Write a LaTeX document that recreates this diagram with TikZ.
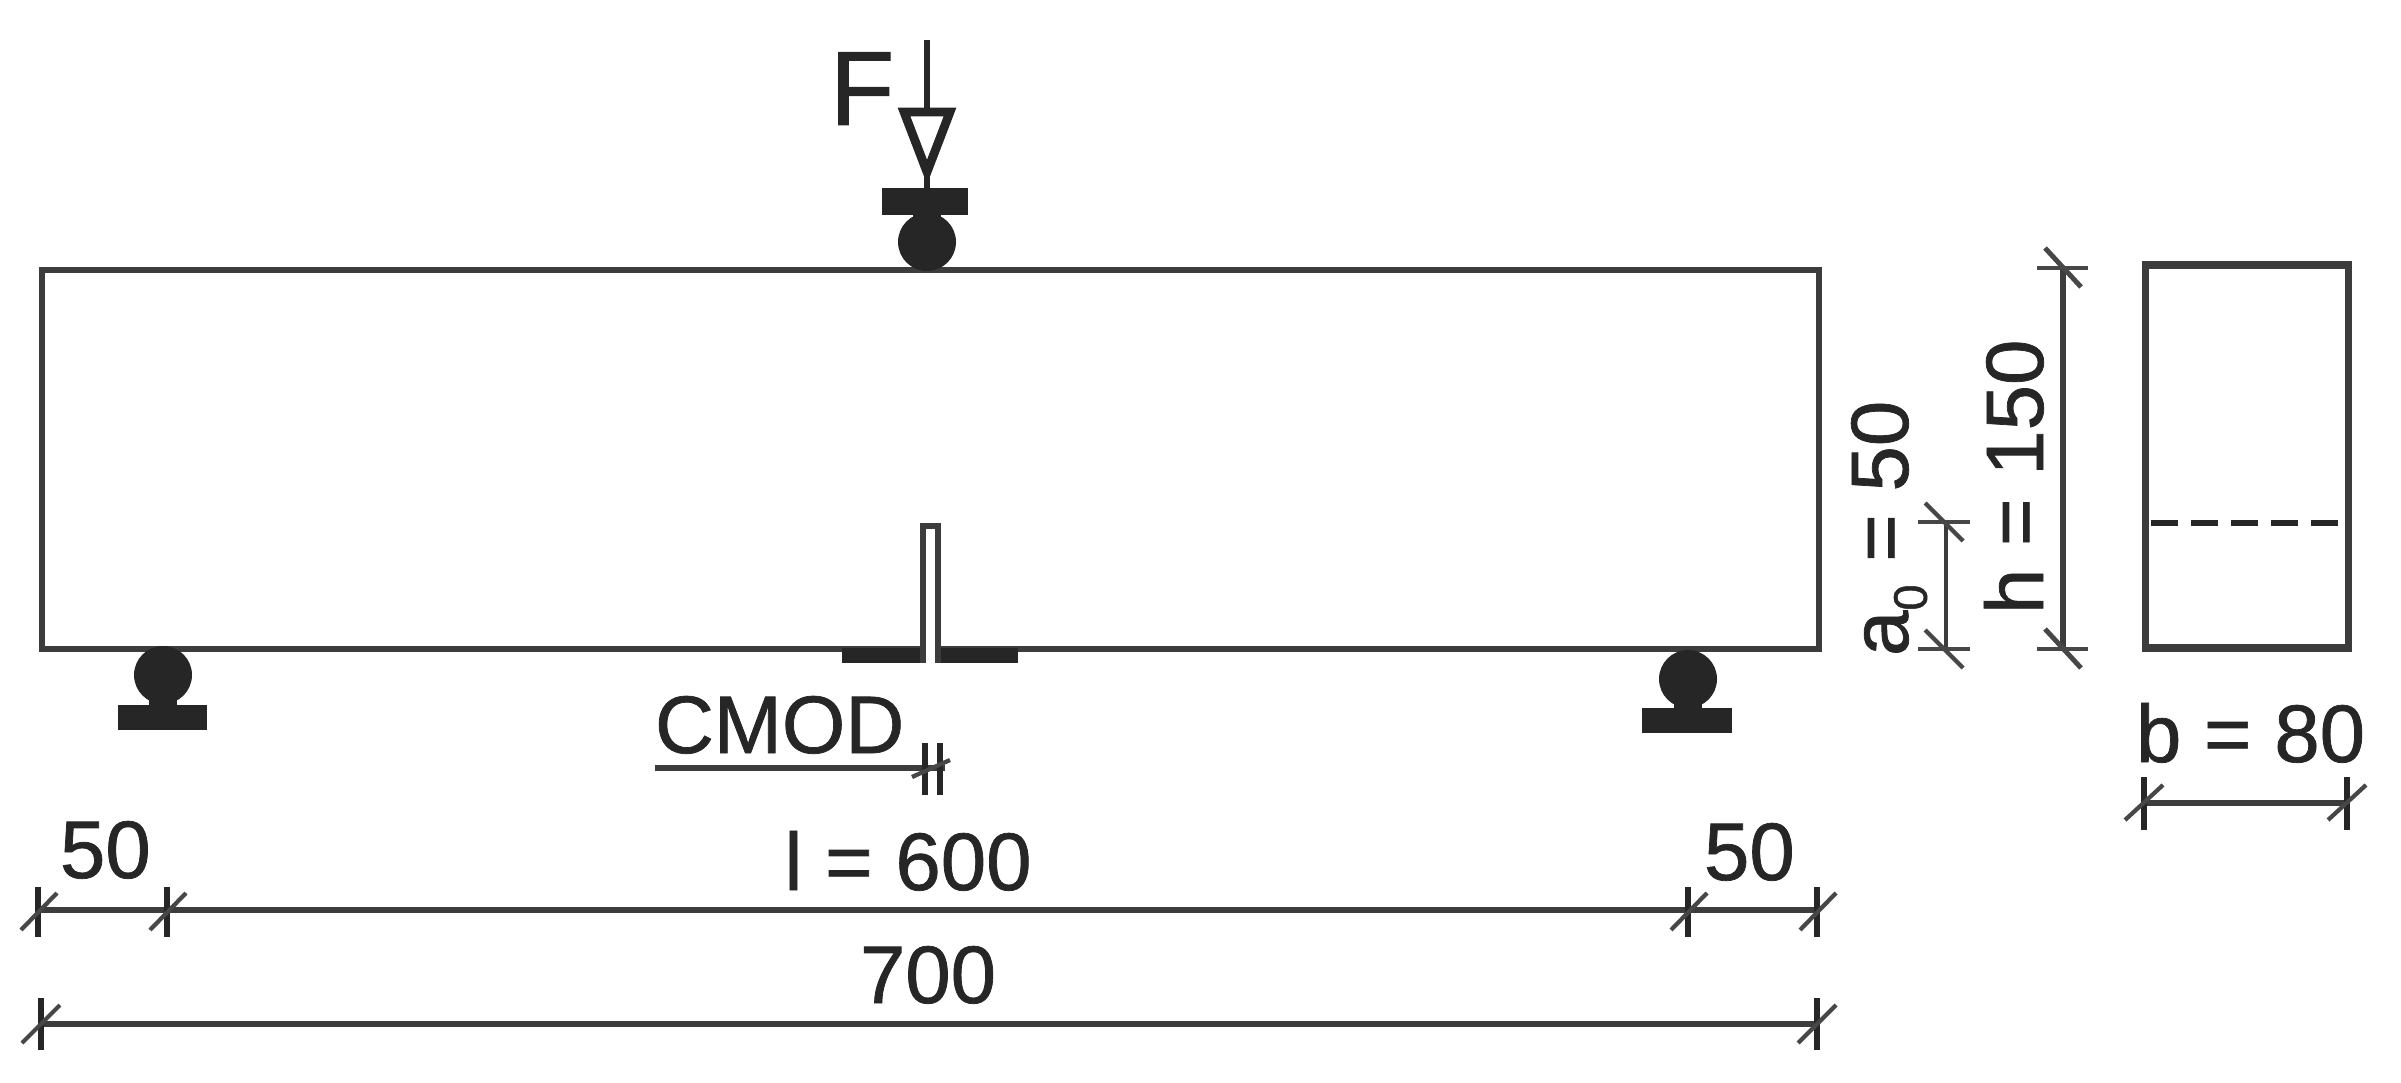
\documentclass[tikz,border=0pt]{standalone}
\usepackage{fontspec}
\setmainfont[FakeBold=0.9]{Liberation Sans}
\definecolor{ink}{HTML}{262626}
\definecolor{stroke}{HTML}{3C3C3C}
\newcommand{\lbl}{\fontsize{23.2}{28}\selectfont}
\tikzset{
  outline/.style={draw=stroke,line width=1.6pt,line join=miter},
  dimline/.style={draw=ink!90!white,line width=1.7pt},
  thindim/.style={draw=ink!90!white,line width=1.3pt},
  tick/.style={draw=ink,line width=1.7pt},
  slash/.style={draw=ink!85!white,line width=1.2pt},
  solid black/.style={fill=ink,draw=none},
  lab/.style={inner sep=0pt,outer sep=0pt,text=ink,font=\lbl},
  vlab/.style={lab,rotate=90,anchor=base west},
  hlab/.style={lab,anchor=base west},
}
\begin{document}
\begin{tikzpicture}[x=0.01cm,y=-0.01cm]
\useasboundingbox (0,0) rectangle (2401,1083);
% beam
\draw[outline] (42,270) rectangle (1819,649);
% section
\draw[outline,line width=2pt] (2145,265) rectangle (2348,648);
\draw[draw=ink,line width=1.7pt,dash pattern=on 7.6pt off 3.8pt] (2151,523) -- (2342,523);
% load
\fill[solid black] (927,242) circle (29);
\fill[solid black] (882,188) rectangle (968,215);
\fill[solid black] (913,213) rectangle (941,222);
\draw[draw=ink,line width=1.7pt] (927,40) -- (927,113);
\draw[draw=ink,line width=1.6pt] (927,170) -- (927,190);
\draw[draw=ink,line width=2.5pt,line join=miter] (904,112) -- (950,112) -- (927,172) -- cycle;
% supports
\fill[solid black] (163,675) circle (29);
\fill[solid black] (149,695) rectangle (177,706);
\fill[solid black] (118,705) rectangle (207,730);
\fill[solid black] (1688,679) circle (29);
\fill[solid black] (1674,698) rectangle (1702,709);
\fill[solid black] (1642,708) rectangle (1732,733);
% notch
\fill[solid black] (842,648) rectangle (1018,663);
\fill[white] (923,600) rectangle (937,670);
\draw[outline,line width=1.6pt] (923,663) -- (923,526) -- (938,526) -- (938,663);
% CMOD
\draw[dimline] (655,768) -- (945,768);
\draw[tick,line width=1.5pt] (925,743) -- (925,795);
\draw[tick,line width=1.5pt] (940,743) -- (940,795);
\draw[slash] (912,777) -- (950,760);
% lower dimensions
\draw[dimline,line width=1.9pt] (38,910) -- (1817,910);
\foreach \xa in {38,167,1688,1817}{
  \draw[tick] (\xa,887) -- (\xa,937);
  \draw[slash] (\xa-17,930) -- (\xa+19,893);
}
\draw[dimline] (41,1024) -- (1817,1024);
\foreach \xa in {41,1817}{
  \draw[tick] (\xa,998) -- (\xa,1050);
  \draw[slash] (\xa-19,1043) -- (\xa+19,1005);
}
% h and a0 dimensions
\draw[dimline,line width=1.9pt] (2063,268) -- (2063,649);
\foreach \ya in {268,649}{
  \draw[slash,line width=1.4pt] (2037,\ya) -- (2088,\ya);
  \draw[slash,line width=1.4pt] (2045,\ya-20) -- (2081,\ya+19);
}
\draw[thindim] (1946,522) -- (1946,649);
\foreach \ya in {522,649}{
  \draw[slash] (1918,\ya) -- (1970,\ya);
  \draw[slash] (1925,\ya-19) -- (1963,\ya+19);
}
% b dimension
\draw[dimline] (2145,803) -- (2348,803);
\foreach \xa in {2144,2347}{
  \draw[tick,line width=1.6pt] (\xa,777) -- (\xa,830);
  \draw[slash] (\xa-19,820) -- (\xa+19,785);
}
% labels
\node[hlab,font=\fontsize{30}{36}\selectfont] (lF) at (830,125) {F};
\node[hlab] (lCMOD) at (655,753) {CMOD};
\node[hlab] (l50a) at (60,878) {50};
\node[hlab] (l50b) at (1704,880) {50};
\node[lab,anchor=base] (l600) at (908,890) {l = 600};
\node[lab,anchor=base] (l700) at (928,1003) {700};
\node[hlab] (lb) at (2136,762) {b = 80};
\node[vlab] (lh) at (2043,614) {h = 150};
\node[vlab] (la) at (1908,656) {a\raisebox{-0.23em}{\fontsize{13.4}{14}\selectfont 0} = 50};
\end{tikzpicture}
\end{document}
